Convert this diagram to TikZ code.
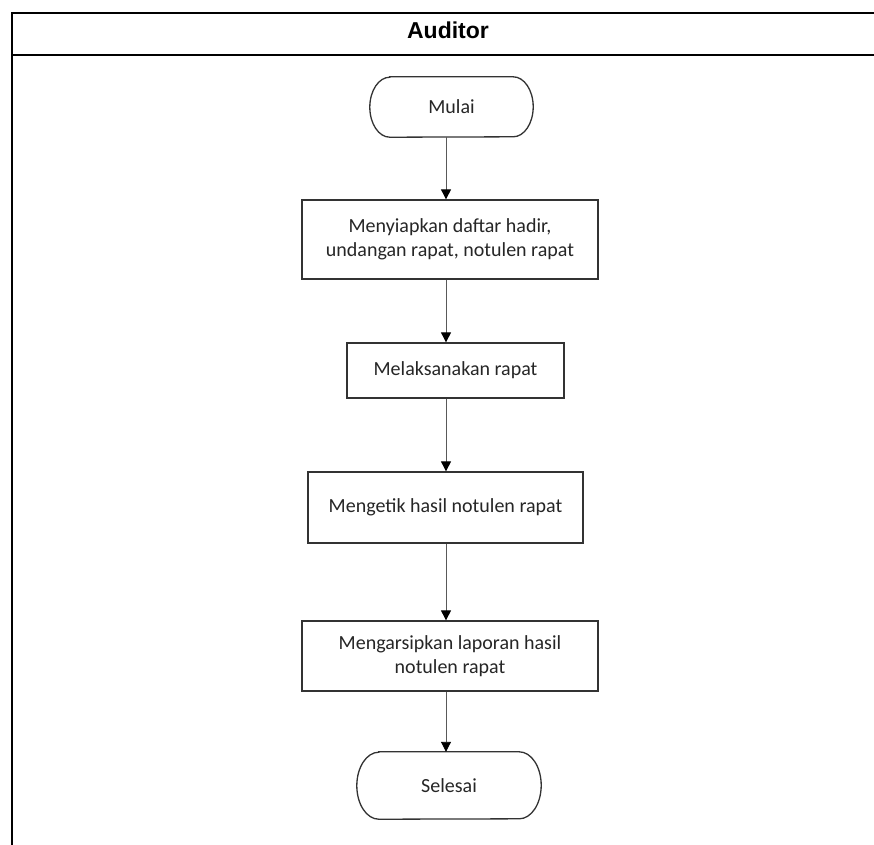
\documentclass[tikz,border=0pt]{standalone}
\usepackage{fontspec}
\setmainfont{Carlito}
\newfontfamily\headfont{Liberation Sans}
\usetikzlibrary{arrows.meta,calc}
\begin{document}
\begin{tikzpicture}[x=1pt,y=-1pt,
  txt/.style={font=\fontsize{20}{23.5}\selectfont, text=black!85, align=center},
  procbox/.style={txt, draw=black!80, line width=1.3pt, inner sep=0pt},
  termtxt/.style={txt, inner sep=0pt},
  conn/.style={draw=black!65, line width=0.9pt, -{Triangle[length=10pt,width=10pt,fill=black,color=black]}},
  frameline/.style={draw=black, line width=2.4pt}
]
\useasboundingbox (0,0) rectangle (874,844);
\clip (0,0) rectangle (874,844);
\fill[white] (0,0) rectangle (874,844);

% pool frame
\draw[frameline] (890,13) -- (12,13) -- (12,860);
\draw[draw=black, line width=1.8pt] (12,55) -- (890,55);
\node[font=\headfont\bfseries\fontsize{23}{26}\selectfont] (lane) at (448,30) {Auditor};

% column for connectors
\coordinate (col) at (446,0);

% start
\node[termtxt, minimum width=163pt, minimum height=60pt] (start) at (451.5,107) {Mulai};
\draw[draw=black!80, line width=1.3pt]
  ([xshift=20pt]start.north west) -- ([xshift=-20pt]start.north east)
  arc[start angle=90,end angle=-90,x radius=20pt,y radius=30pt]
  -- ([xshift=20pt]start.south west)
  arc[start angle=270,end angle=90,x radius=20pt,y radius=30pt] -- cycle;

\node[procbox, minimum width=296pt, minimum height=79pt] (b1) at (450,239.5) {Menyiapkan daftar hadir,\\undangan rapat, notulen rapat};
\node[procbox, minimum width=217pt, minimum height=55pt] (b2) at (455.5,370.5) {Melaksanakan rapat};
\node[procbox, minimum width=275pt, minimum height=71pt] (b3) at (445.5,507.5) {Mengetik hasil notulen rapat};
\node[procbox, minimum width=296pt, minimum height=70pt] (b4) at (450,656) {Mengarsipkan laporan hasil\\notulen rapat};

% end
\node[termtxt, minimum width=184pt, minimum height=67pt] (end) at (449,785.5) {Selesai};
\draw[draw=black!80, line width=1.3pt]
  ([xshift=22pt]end.north west) -- ([xshift=-22pt]end.north east)
  arc[start angle=90,end angle=-90,x radius=22pt,y radius=33.5pt]
  -- ([xshift=22pt]end.south west)
  arc[start angle=270,end angle=90,x radius=22pt,y radius=33.5pt] -- cycle;

% connectors
\draw[conn] (start.south -| col) -- (b1.north -| col);
\draw[conn] (b1.south -| col) -- (b2.north -| col);
\draw[conn] (b2.south -| col) -- (b3.north -| col);
\draw[conn] (b3.south -| col) -- (b4.north -| col);
\draw[conn] (b4.south -| col) -- (end.north -| col);
\end{tikzpicture}
\end{document}
